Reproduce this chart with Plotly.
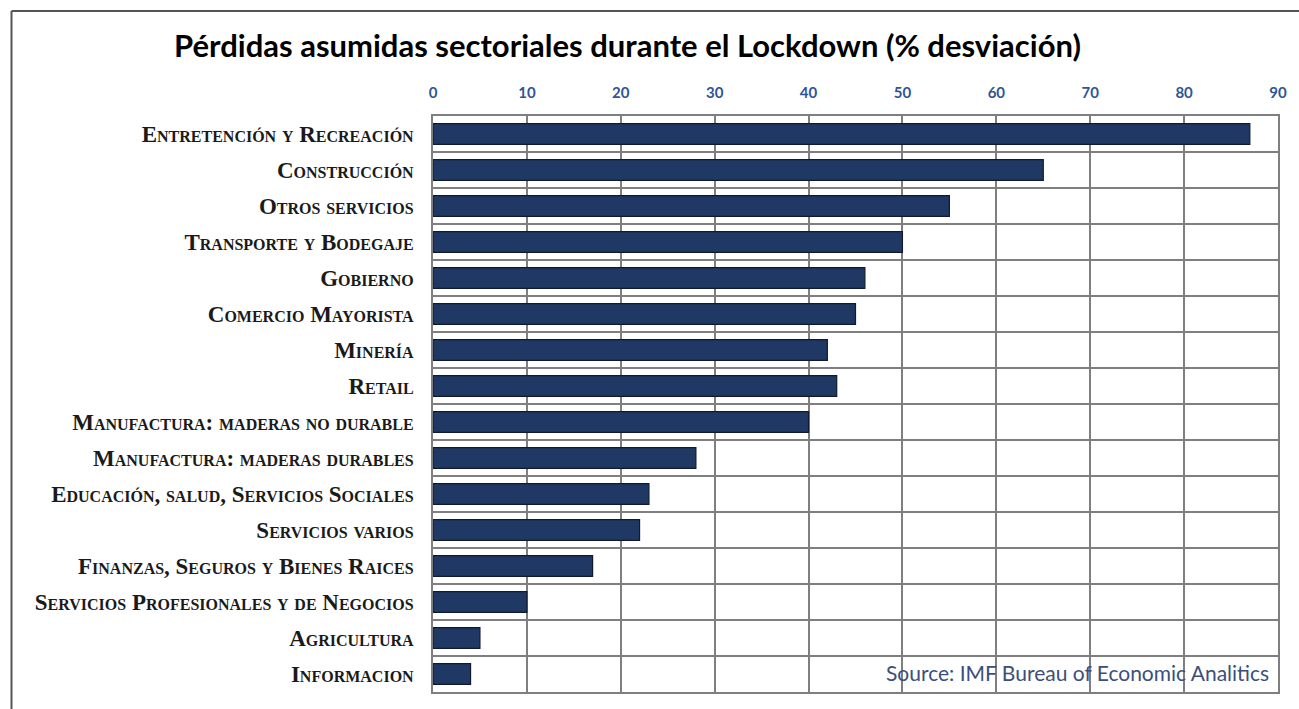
import plotly.graph_objects as go

categories = [
    "Entretención y Recreación",
    "Construcción",
    "Otros servicios",
    "Transporte y Bodegaje",
    "Gobierno",
    "Comercio Mayorista",
    "Minería",
    "Retail",
    "Manufactura: maderas no durable",
    "Manufactura: maderas durables",
    "Educación, salud, Servicios Sociales",
    "Servicios varios",
    "Finanzas, Seguros y Bienes Raices",
    "Servicios Profesionales y de Negocios",
    "Agricultura",
    "Informacion",
]
values = [87, 65, 55, 50, 46, 45, 42, 43, 40, 28, 23, 22, 17, 10, 5, 4]
x_ticks = [0, 10, 20, 30, 40, 50, 60, 70, 80, 90]

title_text = "Pérdidas asumidas sectoriales durante el Lockdown (% desviación)"
source_text = "Source: IMF Bureau of Economic Analitics"

W, H = 1299, 709
ml, mr, mt, mb = 433, 18, 116, 17

fig = go.Figure(
    go.Bar(
        x=values,
        y=categories,
        orientation="h",
        width=0.58,
        marker=dict(color="#203864", line=dict(color="#111a2e", width=1.2)),
        hoverinfo="x+y",
    )
)

fig.update_layout(
    width=W,
    height=H,
    margin=dict(l=ml, r=mr, t=mt, b=mb, pad=0),
    paper_bgcolor="white",
    plot_bgcolor="white",
    showlegend=False,
    title=dict(
        text=title_text,
        x=(175 + 1080) / 2 / W,
        xanchor="center",
        y=1 - 46 / H,
        yanchor="middle",
        font=dict(family="Lato, 'Open Sans', sans-serif", size=31, color="#000000", weight="bold"),
    ),
    xaxis=dict(
        side="top",
        range=[0, 90],
        tickvals=x_ticks,
        showgrid=True,
        gridcolor="#7f7f7f",
        gridwidth=1.5,
        zeroline=False,
        showline=True,
        linecolor="#7f7f7f",
        linewidth=1.5,
        mirror=True,
        ticks="",
        ticklabelstandoff=10,
        tickfont=dict(family="Lato, 'Open Sans', sans-serif", size=15, color="#2F5597", weight="bold"),
        fixedrange=True,
    ),
    yaxis=dict(
        type="category",
        autorange="reversed",
        tickson="boundaries",
        showgrid=True,
        gridcolor="#7f7f7f",
        gridwidth=1.5,
        showline=True,
        linecolor="#7f7f7f",
        linewidth=1.5,
        mirror=True,
        ticks="",
        ticklabelstandoff=13,
        tickfont=dict(family="'Liberation Serif', 'DejaVu Serif', serif", size=23,
                      color="#1a1a1a", weight="bold", variant="small-caps"),
        fixedrange=True,
    ),
    annotations=[
        dict(
            text=source_text,
            xref="paper", yref="paper",
            x=1 - 7 / (W - ml - mr), y=20 / (H - mt - mb),
            xanchor="right", yanchor="middle",
            showarrow=False,
            font=dict(family="Lato, 'Open Sans', sans-serif", size=21, color="#3b4f7c"),
        )
    ],
    shapes=[
        dict(
            type="line", xref="paper", yref="paper",
            x0=-(ml - 10) / (W - ml - mr), x1=-(ml - 10) / (W - ml - mr),
            y0=1 + (mt - 11) / (H - mt - mb), y1=-mb / (H - mt - mb) - 0.01,
            line=dict(color="#555555", width=2),
        ),
        dict(
            type="line", xref="paper", yref="paper",
            x0=-(ml - 10) / (W - ml - mr), x1=1 + mr / (W - ml - mr) + 0.01,
            y0=1 + (mt - 11) / (H - mt - mb), y1=1 + (mt - 11) / (H - mt - mb),
            line=dict(color="#555555", width=2),
        ),
    ],
)

fig.write_html("out.html")
